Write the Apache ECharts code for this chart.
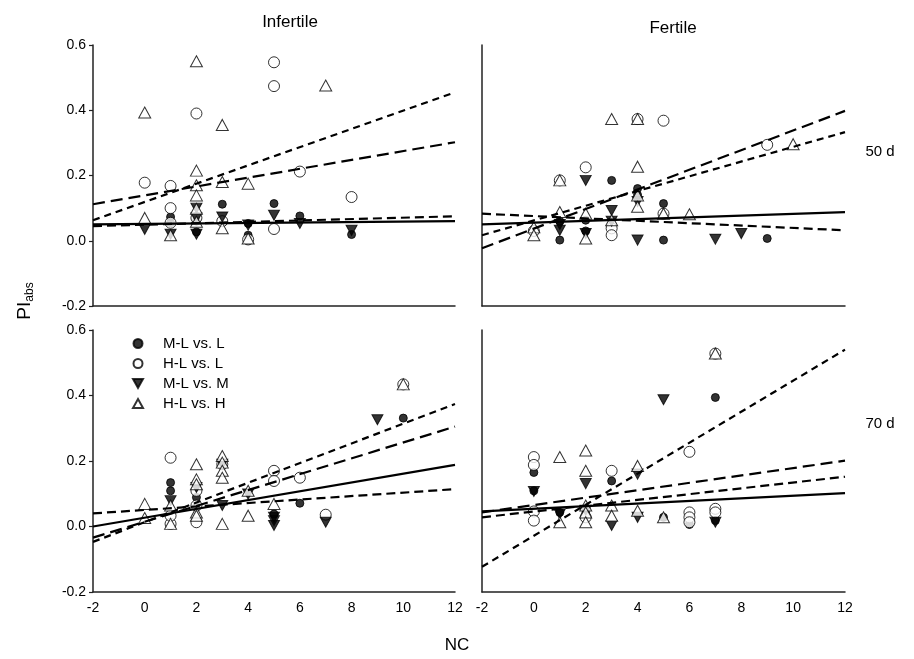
<!DOCTYPE html>
<html>
<head>
<meta charset="utf-8">
<script src="https://cdn.jsdelivr.net/npm/echarts@6/dist/echarts.min.js"></script>
<style>
  html, body { margin: 0; padding: 0; background: #fff; }
  #main { width: 914px; height: 659px; }
</style>
</head>
<body>
<div id="main"></div>
<script>
// groups shown in the legend
var groups = ['M-L vs. L', 'H-L vs. L', 'M-L vs. M', 'H-L vs. H'];
var panelNames = ['Infertile 50 d', 'Fertile 50 d', 'Infertile 70 d', 'Fertile 70 d'];
var xTicks = [-2, 0, 2, 4, 6, 8, 10, 12];
var yTicks = [-0.2, 0.0, 0.2, 0.4, 0.6];

// Infertile, 50 d
var inf50_mlL = [[1,0.073],[2,0.027],[3,0.112],[4,0.053],[4,0.017],[5,0.114],[6,0.076],[8,0.019],[2,0.06],[1,0.055]];
var inf50_hlL = [[0,0.178],[1,0.168],[1,0.10],[1,0.055],[2,0.39],[2,0.07],[5,0.547],[5,0.474],[5,0.036],[6,0.212],[8,0.134],[4,0.004],[3,0.06]];
var inf50_mlM = [[0,0.035],[1,0.02],[2,0.10],[2,0.02],[2,0.07],[3,0.073],[4,0.048],[5,0.078],[6,0.053],[8,0.032]];
var inf50_hlH = [[0,0.393],[0,0.07],[1,0.017],[2,0.55],[2,0.215],[2,0.17],[2,0.139],[2,0.098],[2,0.058],[3,0.355],[3,0.18],[3,0.038],[4,0.175],[4,0.007],[7,0.476]];
// Fertile, 50 d
var fer50_mlL = [[1,0.002],[2,0.063],[2,0.03],[3,0.185],[4,0.16],[4,0.14],[5,0.114],[5,0.002],[9,0.007],[1,0.06]];
var fer50_hlL = [[1,0.185],[2,0.225],[3,0.038],[3,0.017],[4,0.373],[5,0.368],[5,0.083],[9,0.294],[0,0.03]];
var fer50_mlM = [[1,0.032],[2,0.185],[2,0.022],[3,0.093],[3,0.06],[4,0.002],[4,0.12],[7,0.005],[8,0.022],[1,0.05]];
var fer50_hlH = [[0,0.041],[0,0.017],[1,0.185],[1,0.088],[2,0.083],[2,0.007],[3,0.373],[3,0.063],[4,0.373],[4,0.227],[4,0.139],[4,0.104],[5,0.083],[6,0.081],[10,0.296]];
// Infertile, 70 d
var inf70_mlL = [[1,0.134],[1,0.109],[2,0.089],[3,0.19],[5,0.038],[6,0.071],[10,0.331],[2,0.06]];
var inf70_hlL = [[1,0.21],[1,0.008],[1,0.033],[2,0.109],[2,0.013],[2,0.064],[3,0.19],[5,0.17],[5,0.139],[6,0.149],[7,0.036],[10,0.434]];
var inf70_mlM = [[1,0.079],[2,0.119],[3,0.19],[3,0.064],[4,0.099],[5,0.018],[5,0.003],[5,0.028],[7,0.013],[9,0.326]];
var inf70_hlH = [[0,0.069],[0,0.026],[1,0.008],[1,0.064],[2,0.19],[2,0.144],[2,0.129],[2,0.043],[2,0.033],[3,0.215],[3,0.195],[3,0.17],[3,0.149],[3,0.008],[4,0.109],[4,0.033],[5,0.069],[10,0.434]];
// Fertile, 70 d
var fer70_mlL = [[0,0.165],[0,0.109],[1,0.043],[3,0.139],[5,0.028],[6,0.006],[7,0.394],[7,0.018],[2,0.04]];
var fer70_hlL = [[0,0.212],[0,0.188],[0,0.046],[0,0.018],[2,0.028],[3,0.17],[6,0.228],[6,0.043],[6,0.028],[6,0.013],[7,0.528],[7,0.054],[7,0.043]];
var fer70_mlM = [[0,0.107],[1,0.038],[2,0.131],[3,0.003],[4,0.16],[4,0.028],[5,0.387],[7,0.013],[2,0.05]];
var fer70_hlH = [[1,0.212],[1,0.013],[2,0.232],[2,0.17],[2,0.064],[2,0.043],[2,0.013],[3,0.064],[3,0.033],[4,0.185],[4,0.048],[5,0.028],[7,0.528]];

// fitted lines: value at NC = -2 and NC = 12, order: solid, long dash, medium dash, short dash
var inf50_fit = [[0.050,0.060],[0.112,0.302],[0.045,0.075],[0.063,0.455]];
var fer50_fit = [[0.050,0.088],[-0.023,0.398],[0.083,0.032],[0.017,0.333]];
var inf70_fit = [[0.000,0.188],[-0.034,0.305],[0.040,0.114],[-0.047,0.374]];
var fer70_fit = [[0.046,0.102],[0.043,0.201],[0.028,0.152],[-0.123,0.540]];

var points = [
    [inf50_mlL, inf50_hlL, inf50_mlM, inf50_hlH],
    [fer50_mlL, fer50_hlL, fer50_mlM, fer50_hlH],
    [inf70_mlL, inf70_hlL, inf70_mlM, inf70_hlH],
    [fer70_mlL, fer70_hlL, fer70_mlM, fer70_hlH]
];
var fits = [inf50_fit, fer50_fit, inf70_fit, fer70_fit];

var downTri = 'path://M0,0 L10,0 L5,9 Z';
var symbolStyles = [
    {symbol: 'circle', symbolSize: 8, itemStyle: {color: '#000', borderColor: '#000', borderWidth: 1}},
    {symbol: 'circle', symbolSize: 11, itemStyle: {color: '#fff', borderColor: '#000', borderWidth: 1}},
    {symbol: downTri, symbolSize: [11, 10], itemStyle: {color: '#000', borderColor: '#000', borderWidth: 1}},
    {symbol: 'triangle', symbolSize: [12, 11], itemStyle: {color: '#fff', borderColor: '#000', borderWidth: 1}}
];
var dashStyles = ['solid', [12, 6], [9, 5], [7, 5]];

var grids = [
    {left: 93, top: 45, width: 362, height: 261},
    {left: 482, top: 45, width: 363, height: 261},
    {left: 93, top: 330, width: 362, height: 262},
    {left: 482, top: 330, width: 363, height: 262}
];

var font = 'Liberation Sans, Arial, sans-serif';
var xAxes = [], yAxes = [], series = [];
grids.forEach(function (g, i) {
    var bottomRow = i >= 2, leftCol = i % 2 === 0;
    xAxes.push({
        type: 'value', gridIndex: i, min: xTicks[0], max: xTicks[xTicks.length - 1], interval: 2,
        axisLine: {show: true, onZero: false, lineStyle: {color: '#222', width: 1.5}},
        axisTick: {show: false},
        splitLine: {show: false},
        axisLabel: {show: bottomRow, color: '#000', fontFamily: font, fontSize: 14, margin: 9}
    });
    yAxes.push({
        type: 'value', gridIndex: i, min: yTicks[0], max: yTicks[yTicks.length - 1], interval: 0.2,
        axisLine: {show: true, onZero: false, lineStyle: {color: '#222', width: 1.5}},
        axisTick: {show: leftCol, length: 4, lineStyle: {color: '#222', width: 1.2}},
        splitLine: {show: false},
        axisLabel: {show: leftCol, color: '#000', fontFamily: font, fontSize: 14, margin: 7,
            formatter: function (v) { return v.toFixed(1); }}
    });
    points[i].forEach(function (d, k) {
        series.push(Object.assign({
            name: groups[k], type: 'scatter', xAxisIndex: i, yAxisIndex: i, data: d,
            z: 2, silent: true
        }, symbolStyles[k]));
    });
    fits[i].forEach(function (f, k) {
        series.push({
            type: 'line', xAxisIndex: i, yAxisIndex: i,
            data: [[xTicks[0], f[0]], [xTicks[xTicks.length - 1], f[1]]],
            showSymbol: false, silent: true, z: 3,
            lineStyle: {color: '#000', width: 2.2, type: dashStyles[k]}
        });
    });
});

var myChart = echarts.init(document.getElementById('main'));
myChart.setOption({
    backgroundColor: '#fff',
    animation: false,
    grid: grids,
    xAxis: xAxes,
    yAxis: yAxes,
    legend: {
        data: groups.map(function (n, k) {
            return {name: n, icon: symbolStyles[k].symbol};
        }),
        orient: 'vertical', left: 127, top: 331, itemGap: 5,
        itemWidth: 10, itemHeight: 9, selectedMode: false,
        textStyle: {color: '#000', fontFamily: font, fontSize: 15, padding: [0, 0, 0, 15]}
    },
    graphic: [
        {type: 'text', style: {text: 'Infertile', font: '17px ' + font, fill: '#000', x: 290, y: 22, textAlign: 'center', textVerticalAlign: 'middle'}},
        {type: 'text', style: {text: 'Fertile', font: '17px ' + font, fill: '#000', x: 673, y: 28, textAlign: 'center', textVerticalAlign: 'middle'}},
        {type: 'text', style: {text: '50 d', font: '15px ' + font, fill: '#000', x: 880, y: 152, textAlign: 'center', textVerticalAlign: 'middle'}},
        {type: 'text', style: {text: '70 d', font: '15px ' + font, fill: '#000', x: 880, y: 424, textAlign: 'center', textVerticalAlign: 'middle'}},
        {type: 'text', style: {text: 'NC', font: '17px ' + font, fill: '#000', x: 457, y: 645, textAlign: 'center', textVerticalAlign: 'middle'}},
        {type: 'text', x: 25, y: 301, rotation: Math.PI / 2,
            style: {text: '{a|PI}{b|abs}', x: 0, y: 0, textAlign: 'center', textVerticalAlign: 'middle',
                rich: {a: {fontSize: 19, fontFamily: font, fill: '#000', color: '#000'},
                       b: {fontSize: 12, fontFamily: font, fill: '#000', color: '#000', padding: [10, 0, 0, 0]}}}}
    ],
    series: series
});
</script>
</body>
</html>
